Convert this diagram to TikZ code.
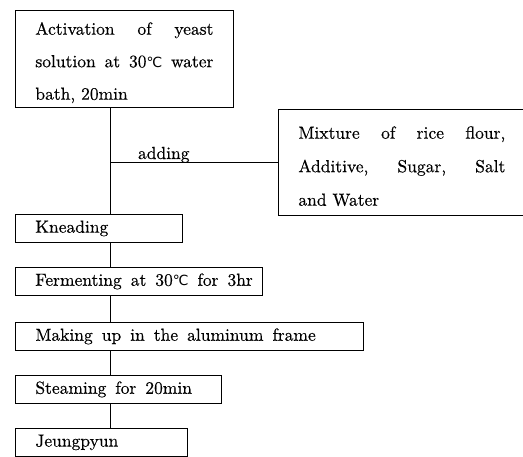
\documentclass[tikz,border=0pt]{standalone}
\usepackage{fontspec}
\setmainfont{lmroman10-regular}[Extension=.otf, FakeBold=0.4]
\newfontfamily\celsiusfont{DejaVu Sans}
\newcommand{\degc}{{\celsiusfont\fontsize{14}{14}\selectfont ℃}}
\newcommand{\firststrut}{\rule{0pt}{20pt}}

\tikzset{
	box/.style={draw, line width=0.8pt, anchor=north west, inner xsep=20pt, inner ysep=0pt, align=left},
	stepbox/.style={box, minimum height=28pt, font=\fontsize{17.5}{21}\selectfont,
		execute at begin node={\spaceskip=9pt plus 1pt\relax}}
}

\begin{document}
\begin{tikzpicture}[x=1pt, y=-1pt]
		
		\useasboundingbox (0,0) rectangle (523,456);
		
		\coordinate (trunk) at (110,0);
		\coordinate (join) at (110,162);
		
		% Main boxes
		\node[box, text width=178pt, minimum height=97pt, font=\fontsize{17.5}{32.5}\selectfont] (act) at (15,10)
			{\firststrut\makebox[178pt][s]{Activation\hfill of\hfill yeast}\\
			 \makebox[178pt][s]{solution\hfill at\hfill 30\degc\hfill water}\\
			 bath, 20min};
		\node[box, text width=207pt, minimum height=106pt, font=\fontsize{17.5}{33.5}\selectfont] (mix) at (278,109)
			{\firststrut\makebox[207pt][s]{Mixture\hfill of\hfill rice\hfill flour,}\\
			 \makebox[207pt][s]{Additive,\hfill Sugar,\hfill Salt}\\
			 and Water};
		
		\node[stepbox, text width=127pt] (knead) at (15,214) {Kneading};
		\node[stepbox, text width=207pt] (ferm) at (15,267) {\mbox{Fermenting at 30\degc{} for 3hr}};
		\node[stepbox, text width=308pt] (make) at (15,322) {Making up in the aluminum frame};
		\node[stepbox, text width=166pt] (steam) at (15,375) {Steaming for 20min};
		\node[stepbox, text width=132pt] (jeung) at (15,428) {Jeungpyun};
		
		% Connecting lines
		\draw[line width=0.8pt] (act.south -| trunk) -- (knead.north -| trunk);
		\draw[line width=0.8pt] (join) -- (join -| mix.west)
			node[pos=0.32, anchor=base, yshift=3pt, inner sep=0pt, font=\fontsize{17.5}{21}\selectfont] (addlbl) {adding};
		\foreach \a/\b in {knead/ferm, ferm/make, make/steam, steam/jeung}
			\draw[line width=0.8pt] (\a.south -| trunk) -- (\b.north -| trunk);
		
	\end{tikzpicture}
\end{document}
